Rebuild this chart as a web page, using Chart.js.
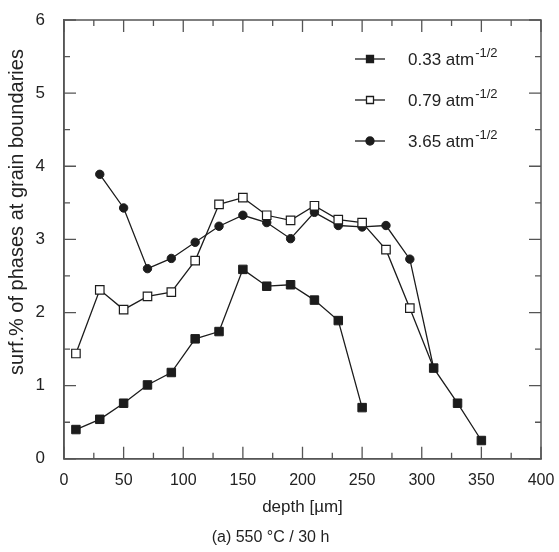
<!DOCTYPE html>
<html>
<head>
<meta charset="utf-8">
<script src="https://cdn.jsdelivr.net/npm/chart.js@4.4.1/dist/chart.umd.min.js"></script>
<style>
  body { margin: 0; background: #fff; }
  canvas { display: block; }
</style>
</head>
<body>
<canvas id="chart" width="559" height="552"></canvas>
<script>
// data
const depth033 = [10, 30, 50, 70, 90, 110, 130, 150, 170, 190, 210, 230, 250];
const surf033 = [0.40, 0.54, 0.76, 1.01, 1.18, 1.64, 1.74, 2.59, 2.36, 2.38, 2.17, 1.89, 0.70];

const depth079 = [10, 30, 50, 70, 90, 110, 130, 150, 170, 190, 210, 230, 250, 270, 290, 310];
const surf079 = [1.44, 2.31, 2.04, 2.22, 2.28, 2.71, 3.48, 3.57, 3.33, 3.26, 3.46, 3.27, 3.23, 2.86, 2.06, 1.24];

const depth365 = [30, 50, 70, 90, 110, 130, 150, 170, 190, 210, 230, 250, 270, 290, 310, 330, 350];
const surf365 = [3.89, 3.43, 2.60, 2.74, 2.96, 3.18, 3.33, 3.23, 3.01, 3.37, 3.19, 3.17, 3.19, 2.73, 1.24, 0.76, 0.25];

const seriesLabels = ["0.33 atm", "0.79 atm", "3.65 atm"];
const labelSup = "-1/2";
const xTicks = [0, 50, 100, 150, 200, 250, 300, 350, 400];
const yTicks = [0, 1, 2, 3, 4, 5, 6];
const yTitle = "surf.% of phases at grain boundaries";

const ink = "#1c1c1c";
const frame = "#555";
const fontFamily = "'Liberation Sans', Arial, sans-serif";

function toPoints(xs, ys) {
  return xs.map((x, i) => ({ x: x, y: ys[i] }));
}

// the common tail (310-350) is drawn with filled squares
const styles365 = depth365.map(d => d >= 310 ? "rect" : "circle");
const radius365 = depth365.map(d => d >= 310 ? 6 : 4.2);
const radius079 = depth079.map(d => d >= 310 ? 0 : 6);

// inward ticks on all four sides + closed frame
const frameTicks = {
  id: "frameTicks",
  beforeDatasetsDraw(chart) {
    const { ctx, chartArea: a, scales } = chart;
    ctx.save();
    ctx.strokeStyle = frame;
    ctx.lineWidth = 1.5;
    ctx.strokeRect(a.left, a.top, a.right - a.left, a.bottom - a.top);
    ctx.lineWidth = 1.3;
    ctx.beginPath();
    for (let v = 0; v <= 400; v += 25) {
      const px = scales.x.getPixelForValue(v);
      const len = v % 50 === 0 ? 12 : 6;
      ctx.moveTo(px, a.bottom); ctx.lineTo(px, a.bottom - len);
      ctx.moveTo(px, a.top); ctx.lineTo(px, a.top + len);
    }
    for (let v = 0; v <= 6; v += 0.5) {
      const py = scales.y.getPixelForValue(v);
      const len = v % 1 === 0 ? 12 : 6;
      ctx.moveTo(a.left, py); ctx.lineTo(a.left + len, py);
      ctx.moveTo(a.right, py); ctx.lineTo(a.right - len, py);
    }
    ctx.stroke();
    ctx.restore();
  }
};

// legend with superscript units, and the y axis title (sits a bit above centre in the original)
const supLegend = {
  id: "supLegend",
  afterDraw(chart) {
    const { ctx } = chart;
    const rows = [59, 100, 141];
    ctx.save();
    chart.data.datasets.forEach((ds, i) => {
      const y = rows[i];
      ctx.strokeStyle = ink;
      ctx.lineWidth = 1.3;
      ctx.beginPath();
      ctx.moveTo(355, y); ctx.lineTo(385, y);
      ctx.stroke();
      ctx.fillStyle = i === 1 ? "#fff" : ink;
      ctx.beginPath();
      if (i === 2) {
        ctx.arc(370, y, 4, 0, Math.PI * 2);
      } else {
        ctx.rect(366.5, y - 3.5, 7, 7);
      }
      ctx.fill();
      ctx.stroke();

      ctx.fillStyle = "#222";
      ctx.textBaseline = "middle";
      ctx.font = "17px " + fontFamily;
      ctx.fillText(seriesLabels[i], 408, y + 1);
      const w = ctx.measureText(seriesLabels[i]).width;
      ctx.font = "13px " + fontFamily;
      ctx.fillText(labelSup, 408 + w + 1, y - 6);
    });

    ctx.translate(17, 212);
    ctx.rotate(-Math.PI / 2);
    ctx.textAlign = "center";
    ctx.textBaseline = "middle";
    ctx.fillStyle = "#222";
    ctx.font = "20px " + fontFamily;
    ctx.fillText(yTitle, 0, 0);
    ctx.restore();
  }
};

new Chart(document.getElementById("chart"), {
  type: "scatter",
  data: {
    datasets: [
      {
        label: "0.33 atm-1/2",
        data: toPoints(depth033, surf033),
        showLine: true,
        borderColor: ink,
        borderWidth: 1.3,
        pointStyle: "rect",
        pointRadius: 6,
        pointBackgroundColor: ink,
        pointBorderColor: ink,
        pointBorderWidth: 1
      },
      {
        label: "0.79 atm-1/2",
        data: toPoints(depth079, surf079),
        showLine: true,
        borderColor: ink,
        borderWidth: 1.3,
        pointStyle: "rect",
        pointRadius: radius079,
        pointBackgroundColor: "#fff",
        pointBorderColor: ink,
        pointBorderWidth: 1.2
      },
      {
        label: "3.65 atm-1/2",
        data: toPoints(depth365, surf365),
        showLine: true,
        borderColor: ink,
        borderWidth: 1.3,
        pointStyle: styles365,
        pointRadius: radius365,
        pointBackgroundColor: ink,
        pointBorderColor: ink,
        pointBorderWidth: 1
      }
    ]
  },
  options: {
    responsive: false,
    animation: false,
    devicePixelRatio: 1,
    layout: { padding: { top: 20, right: 18, left: 0, bottom: 0 } },
    plugins: {
      legend: { display: false },
      tooltip: { enabled: false },
      title: {
        display: true,
        position: "bottom",
        text: "(a) 550 °C / 30 h",
        color: "#222",
        font: { family: fontFamily, size: 16, weight: "normal", lineHeight: 1.2 },
        padding: { top: 2, bottom: 5 }
      }
    },
    scales: {
      x: {
        type: "linear",
        min: 0,
        max: 400,
        afterBuildTicks: s => { s.ticks = xTicks.map(v => ({ value: v })); },
        afterFit: s => { s.height = 67; s.paddingLeft = 0; s.paddingRight = 0; },
        grid: { display: false, drawTicks: false },
        border: { display: true, color: frame, width: 1.5 },
        ticks: { color: "#222", padding: 12, font: { family: fontFamily, size: 16 } },
        title: {
          display: true,
          text: "depth [µm]",
          color: "#222",
          font: { family: fontFamily, size: 17, lineHeight: 1.2 },
          padding: { top: 0, bottom: 8 }
        }
      },
      y: {
        type: "linear",
        min: 0,
        max: 6,
        afterBuildTicks: s => { s.ticks = yTicks.map(v => ({ value: v })); },
        afterFit: s => { s.width = 64; s.paddingTop = 0; s.paddingBottom = 0; },
        grid: { display: false, drawTicks: false },
        border: { display: true, color: frame, width: 1.5 },
        ticks: { color: "#222", padding: 19, font: { family: fontFamily, size: 17 } },
        title: { display: false }
      }
    }
  },
  plugins: [frameTicks, supLegend]
});
</script>
</body>
</html>
